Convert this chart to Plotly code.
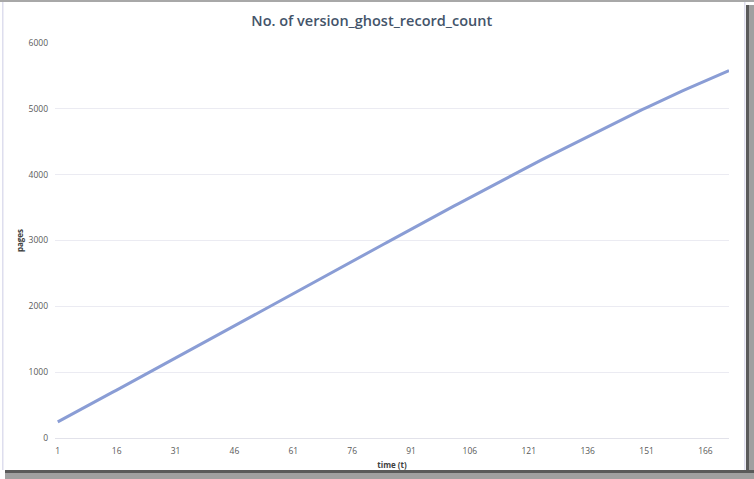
import plotly.graph_objects as go

# series
time_t = list(range(1, 173))
pages = [
    244, 277, 308, 341, 373, 406, 437, 470, 502, 535,
    566, 599, 631, 664, 696, 727, 760, 792, 825, 857,
    889, 922, 954, 986, 1019, 1052, 1084, 1117, 1150, 1182,
    1215, 1247, 1280, 1313, 1345, 1378, 1410, 1443, 1476, 1508,
    1541, 1573, 1606, 1639, 1671, 1704, 1736, 1769, 1802, 1834,
    1867, 1899, 1932, 1965, 1997, 2030, 2062, 2095, 2128, 2160,
    2193, 2225, 2258, 2291, 2323, 2356, 2388, 2421, 2454, 2486,
    2519, 2551, 2584, 2617, 2649, 2682, 2714, 2747, 2780, 2812,
    2845, 2877, 2910, 2943, 2975, 3008, 3040, 3073, 3105, 3137,
    3170, 3202, 3235, 3267, 3299, 3332, 3364, 3397, 3429, 3462,
    3494, 3526, 3557, 3589, 3621, 3653, 3685, 3716, 3748, 3780,
    3812, 3844, 3875, 3907, 3939, 3971, 4003, 4034, 4064, 4095,
    4125, 4156, 4187, 4217, 4248, 4278, 4309, 4340, 4370, 4401,
    4431, 4462, 4493, 4523, 4554, 4584, 4613, 4643, 4672, 4702,
    4732, 4761, 4791, 4820, 4850, 4878, 4907, 4935, 4964, 4992,
    5020, 5049, 5077, 5106, 5134, 5161, 5188, 5215, 5242, 5269,
    5296, 5323, 5350, 5377, 5404, 5429, 5455, 5480, 5506, 5531,
    5557, 5582,
]
x_ticks = [1, 16, 31, 46, 61, 76, 91, 106, 121, 136, 151, 166]
y_ticks = [0, 1000, 2000, 3000, 4000, 5000, 6000]

W, H = 754, 479
L, R, T, B = 55, 25, 43, 41
PW, PH = W - L - R, H - T - B


def px(X):
    return (X - L) / PW


def py(Y):
    return (H - B - Y) / PH


fig = go.Figure()
fig.add_trace(go.Scatter(x=time_t, y=pages, mode="lines",
                         line=dict(color="#8a9dd5", width=3),
                         showlegend=False, hoverinfo="x+y"))

# picture frame: thin border with a drop shadow on the right and bottom
frame = [
    dict(x0=0, x1=W, y0=0, y1=2, color="#a8a8a8"),
    dict(x0=746, x1=749, y0=5, y1=H, color="#5a5a5a"),
    dict(x0=749, x1=W, y0=5, y1=H, color="#a0a0a0"),
    dict(x0=5, x1=W, y0=470, y1=473, color="#5a5a5a"),
    dict(x0=5, x1=W, y0=473, y1=H, color="#a0a0a0"),
    dict(x0=2, x1=3.5, y0=2, y1=470, color="#dedeee"),
    dict(x0=744, x1=745.5, y0=2, y1=470, color="#dedeee"),
]
for f in frame:
    fig.add_shape(type="rect", xref="paper", yref="paper",
                  x0=px(f["x0"]), x1=px(f["x1"]), y0=py(f["y1"]), y1=py(f["y0"]),
                  fillcolor=f["color"], line=dict(width=0), layer="above")

fig.update_layout(
    width=W, height=H,
    margin=dict(l=L, r=R, t=T, b=B, autoexpand=False),
    paper_bgcolor="white", plot_bgcolor="white",
    title=dict(text="No. of version_ghost_record_count", x=0.493, xanchor="center",
               y=1 - 21 / H, yanchor="middle",
               font=dict(family="Open Sans", size=14.5, color="#44546a", weight=600)),
    font=dict(family="Open Sans", size=9, color="#595959"),
    xaxis=dict(range=[0.3, 172], tickvals=x_ticks, showgrid=False, zeroline=False,
               showline=False, ticks="", automargin=False, ticklabelstandoff=6,
               tickfont=dict(size=8.5, color="#595959"),
               title=dict(text="time (t)", standoff=7,
                          font=dict(size=8, color="#404040", weight="bold"))),
    yaxis=dict(range=[0, 6000], tickvals=y_ticks, showgrid=True, gridcolor="#ebebf2",
               gridwidth=1, zeroline=True, zerolinecolor="#e2e2ea", zerolinewidth=1,
               ticks="", automargin=False, ticklabelstandoff=6,
               tickfont=dict(size=8.5, color="#595959"),
               title=dict(text="pages", standoff=3,
                          font=dict(size=8, color="#404040", weight="bold"))),
)

# drop the page's default body margin so the figure sits at the window corner
fig.write_html("out.html", config={"displayModeBar": False},
               post_script="document.body.style.margin = '0';")
